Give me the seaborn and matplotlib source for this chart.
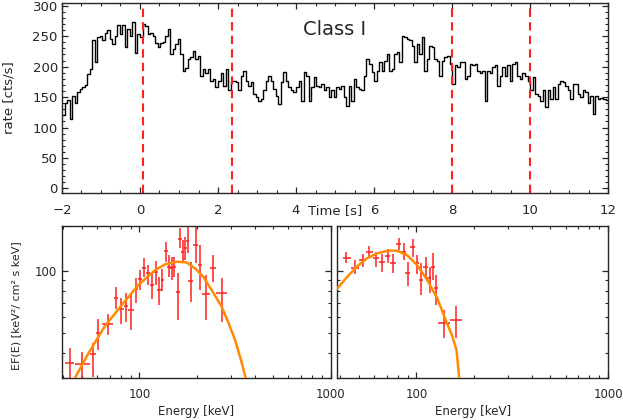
import numpy as np
import pandas as pd
import matplotlib
matplotlib.use("Agg")
import matplotlib.pyplot as plt
import matplotlib.ticker as mticker
import seaborn as sns

# light curve (rate per time bin), bins cover -2..12 s
lc_start = -2.0
lc_stop = 12.0
rate = [
    120, 140, 145, 114, 152, 141, 158, 163, 166, 170, 188, 196, 244, 207, 248, 251, 243, 256,
    260, 245, 237, 250, 269, 253, 269, 232, 262, 250, 273, 223, 253, 248, 270, 266, 253, 255,
    250, 238, 232, 238, 241, 250, 262, 221, 229, 237, 245, 221, 193, 198, 212, 215, 226, 212,
    218, 185, 196, 190, 196, 177, 180, 166, 177, 190, 168, 196, 161, 177, 177, 174, 161, 185, 193,
    177, 169, 175, 155, 150, 144, 147, 161, 177, 185, 177, 163, 152, 139, 175, 191, 177, 166,
    161, 158, 166, 177, 144, 191, 185, 144, 166, 183, 169, 166, 172, 161, 166, 150, 161, 150,
    166, 163, 169,
    150, 136, 169, 144, 180, 166, 163, 161, 185, 213, 205, 191, 177, 193, 207, 193, 210, 221,
    193, 196, 221, 224, 207, 251, 248, 245, 243, 234, 207, 237, 221, 248, 193, 212, 234, 232,
    212, 210, 185,
    210, 215, 218, 205, 172, 202, 199, 207, 207, 180, 185, 205, 202, 205, 193, 190, 193, 144,
    193, 190, 199, 202, 169, 185, 199, 185, 202, 177, 205, 207, 185, 180, 190,
    185, 177, 161, 183, 155, 152, 144, 161, 133, 161, 147, 166, 147, 172, 177, 174, 169, 161,
    147, 172, 172, 155, 150, 161, 158, 141, 152, 122, 152, 147, 148, 147, 145,
]
interval_edges = [0.07, 2.35, 8.0, 10.0]

# spectrum 1 (interval 0.07 - 2.35 s)
spec1_e = [43.3, 50.2, 56.9, 60.8, 68.1, 75.3, 80.0, 84.9, 90.2, 95.5, 100.6, 105.1, 110.4,
           115.8, 121.6, 127.0, 131.8, 137.1, 142.6, 147.2, 152.1, 158.4, 163.0, 168.4, 173.8,
           178.7, 186.2, 196.8, 208.0, 223.6, 241.5, 269.1]
spec1_e_lo = [41.0, 45.9, 55.1, 59.0, 63.9, 73.3, 77.5, 82.6, 87.4, 93.1, 98.6, 103.1, 107.7,
              113.0, 118.6, 124.0, 129.7, 134.4, 139.9, 144.4, 149.2, 154.5, 159.2, 164.9, 170.4,
              175.0, 180.3, 191.4, 203.2, 213.1, 233.9, 251.8]
spec1_e_hi = [45.6, 55.1, 59.0, 63.4, 72.9, 77.5, 82.6, 87.4, 93.1, 98.6, 103.5, 107.7, 113.0,
              118.6, 124.5, 130.6, 134.9, 140.4, 145.5, 150.3, 154.5, 162.2, 167.0, 171.8, 177.4,
              182.4, 191.4, 203.2, 213.1, 233.9, 250.5, 287.0]
spec1_f = [35.5, 35.1, 39.4, 50.0, 55.1, 74.1, 65.0, 67.8, 64.5, 82.0, 91.1, 103.8, 97.4,
           85.5, 99.3, 80.7, 90.4, 125.2, 105.0, 103.8, 105.0, 79.3, 144.2, 123.3, 129.0,
           140.6, 89.7, 133.9, 107.0, 77.3, 103.8, 77.8]
spec1_f_lo = [28.0, 28.0, 30.5, 41.2, 48.8, 65.0, 55.1, 56.6, 51.5, 70.2, 80.7, 93.8, 85.5,
              72.8, 85.5, 68.2, 80.1, 111.1, 93.1, 90.4, 93.8, 57.7, 129.0, 109.0, 113.1,
              121.9, 70.9, 109.0, 80.7, 57.7, 88.7, 56.6]
spec1_f_hi = [42.3, 40.4, 44.4, 58.1, 61.5, 83.2, 73.6, 77.8, 76.4, 92.1, 101.1, 115.3, 107.0,
              97.4, 112.3, 93.1, 101.9, 139.0, 119.7, 117.5, 116.6, 97.4, 161.5, 141.7, 146.9,
              170.0, 111.1, 170.0, 133.9, 95.6, 119.7, 92.1]
model1_e = [45.9, 54.0, 65.9, 80.7, 98.6, 120.5, 136.0, 156.6, 176.6, 195.4, 215.8, 238.6,
            269.1, 291.7, 316.2, 337.3, 359.5]
model1_f = [30.0, 39.6, 53.9, 68.2, 85.5, 101.1, 107.8, 111.1, 110.2, 103.0, 93.8, 80.7,
            67.0, 56.0, 46.0, 37.5, 30.0]

# spectrum 2 (interval 8 - 10 s)
spec2_e = [42.9, 47.8, 52.4, 56.8, 61.5, 65.9, 70.6, 75.3, 80.8, 85.8, 90.4, 95.6, 100.8,
           105.8, 111.5, 117.0, 121.9, 126.9, 139.4, 160.4]
spec2_e_lo = [41.1, 45.5, 50.3, 54.5, 59.1, 63.8, 68.1, 73.0, 78.2, 83.0, 87.5, 93.0, 98.4,
              103.3, 108.4, 113.8, 118.5, 124.0, 129.6, 149.7]
spec2_e_hi = [45.3, 50.3, 54.5, 59.1, 64.1, 68.1, 73.0, 78.2, 83.0, 88.5, 93.0, 98.4, 103.3,
              108.4, 114.7, 119.4, 124.8, 130.0, 149.7, 171.8]
spec2_f = [116.1, 103.8, 113.1, 123.3, 115.3, 110.2, 118.8, 109.0, 135.4, 123.3, 98.1, 130.4,
           109.0, 90.4, 104.2, 92.1, 105.0, 82.3, 56.0, 57.7]
spec2_f_lo = [109.0, 96.3, 105.0, 116.6, 105.0, 99.3, 109.0, 97.5, 126.6, 113.1, 84.5, 116.6,
              96.7, 76.4, 91.1, 77.8, 90.4, 68.2, 47.0, 47.0]
spec2_f_hi = [123.3, 113.1, 121.0, 132.4, 124.2, 120.6, 127.7, 120.6, 145.4, 136.5, 111.1,
              144.2, 119.7, 109.0, 117.5, 105.0, 121.9, 95.6, 64.5, 67.5]
model2_e = [38.6, 43.2, 48.7, 55.0, 62.1, 71.5, 79.1, 89.3, 100.8, 113.8, 128.5, 142.1,
            154.2, 161.8, 167.1]
model2_f = [82.3, 93.1, 105.0, 115.3, 121.9, 126.1, 125.6, 119.7, 107.0, 90.4, 73.6, 57.7,
            47.9, 41.2, 30.0]

sns.set_theme(style="ticks", rc={
    "xtick.direction": "in", "ytick.direction": "in",
    "axes.linewidth": 1.0,
    "xtick.major.size": 4, "ytick.major.size": 4,
    "xtick.minor.size": 2, "ytick.minor.size": 2,
    "xtick.major.width": 0.9, "ytick.major.width": 0.9,
    "xtick.minor.width": 0.8, "ytick.minor.width": 0.8,
})
plt.rcParams['font.family'] = ['DejaVu Sans']

RED = '#ff2020'
ORANGE = '#ff8c00'

fig = plt.figure(figsize=(6.23, 4.2), dpi=100)

# ---- light curve ----
ax = fig.add_axes([0.0995, 0.5398, 0.8765, 0.4538])
width = (lc_stop - lc_start) / len(rate)
t_edges = lc_start + width * np.arange(len(rate) + 1)
lc = pd.DataFrame({'time': t_edges, 'rate': rate + [rate[-1]]})
sns.lineplot(data=lc, x='time', y='rate', ax=ax, color='black', lw=1.0,
             drawstyle='steps-post', estimator=None, sort=False)
for t in interval_edges:
    ax.axvline(t, color=RED, lw=1.5, dashes=(4, 2.5))
ax.set_xlim(-2, 12)
ax.set_ylim(-8, 305)
ax.xaxis.set_major_locator(mticker.MultipleLocator(2))
ax.xaxis.set_minor_locator(mticker.MultipleLocator(0.5))
ax.yaxis.set_major_locator(mticker.MultipleLocator(50))
ax.yaxis.set_minor_locator(mticker.MultipleLocator(10))
ax.tick_params(which='both', top=True, right=True)
ax.tick_params(axis='x', pad=8, labelsize=9.5)
ax.tick_params(axis='y', pad=3, labelsize=9.5)
ax.set_xlabel('Time [s]', fontsize=9.5)
ax.xaxis.set_label_coords(0.5, -0.058)
ax.set_ylabel('rate [cts/s]', fontsize=9.5)
ax.yaxis.set_label_coords(-0.085, 0.5)
ax.text(0.5, 0.857, 'Class I', transform=ax.transAxes, ha='center', va='center',
        fontsize=14)


def spectrum_panel(rect, e, e_lo, e_hi, f, f_lo, f_hi, me, mf, xlim, ylabel):
    a = fig.add_axes(rect)
    e = np.array(e); f = np.array(f)
    xerr = [e - np.array(e_lo), np.array(e_hi) - e]
    yerr = [f - np.array(f_lo), np.array(f_hi) - f]
    a.errorbar(e, f, xerr=xerr, yerr=yerr, fmt='none', ecolor=RED, elinewidth=1.1,
               capsize=0, zorder=2)
    model = pd.DataFrame({'energy': me, 'flux': mf})
    sns.lineplot(data=model, x='energy', y='flux', ax=a, color=ORANGE, lw=1.8,
                 estimator=None, sort=False, zorder=3)
    a.set_xscale('log')
    a.set_yscale('log')
    a.set_xlim(*xlim)
    a.set_ylim(30, 166)
    a.xaxis.set_major_locator(mticker.FixedLocator([100, 1000]))
    a.xaxis.set_major_formatter(mticker.FixedFormatter(['100', '1000']))
    a.xaxis.set_minor_locator(mticker.LogLocator(base=10, subs=np.arange(2, 10)))
    a.xaxis.set_minor_formatter(mticker.NullFormatter())
    a.yaxis.set_major_locator(mticker.FixedLocator([100]))
    a.yaxis.set_minor_locator(mticker.LogLocator(base=10, subs=np.arange(2, 10)))
    a.yaxis.set_minor_formatter(mticker.NullFormatter())
    a.tick_params(which='both', top=True, right=True)
    a.tick_params(axis='x', pad=7, labelsize=8.5)
    a.tick_params(axis='y', pad=3.5, labelsize=8.5)
    a.set_xlabel('Energy [keV]', fontsize=8.5, labelpad=3)
    if ylabel:
        a.yaxis.set_major_formatter(mticker.FixedFormatter(['100']))
        a.set_ylabel(ylabel, fontsize=8)
        a.yaxis.set_label_coords(-0.15, 0.48)
    else:
        a.yaxis.set_major_formatter(mticker.NullFormatter())
        a.set_ylabel('')
    return a


spectrum_panel([0.099, 0.0993, 0.432, 0.3626], spec1_e, spec1_e_lo, spec1_e_hi,
               spec1_f, spec1_f_lo, spec1_f_hi, model1_e, model1_f, (39.2, 1000),
               'EF(E) [keV²/ cm² s keV]')
spectrum_panel([0.5414, 0.0993, 0.4346, 0.3626], spec2_e, spec2_e_lo, spec2_e_hi,
               spec2_f, spec2_f_lo, spec2_f_hi, model2_e, model2_f, (38.6, 1000), None)

fig.savefig('out.png', dpi=100)
